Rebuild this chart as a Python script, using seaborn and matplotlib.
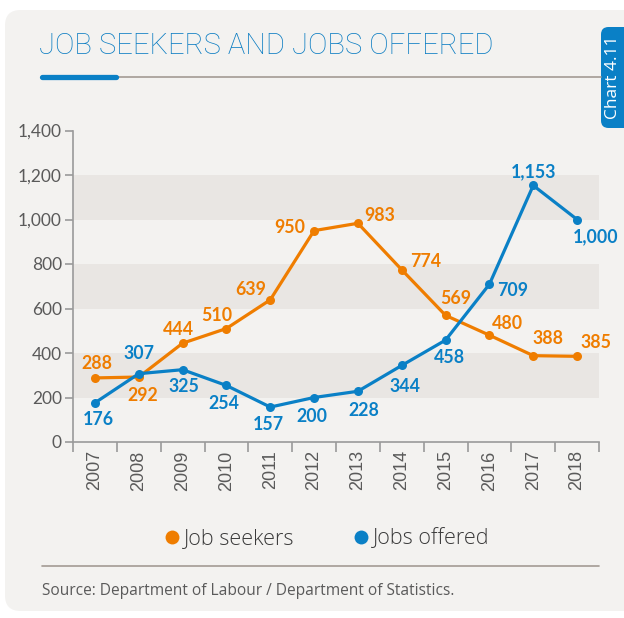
import matplotlib
matplotlib.use("Agg")
import matplotlib.pyplot as plt
import matplotlib.ticker as mticker
from matplotlib.patches import FancyBboxPatch
from matplotlib.lines import Line2D
import numpy as np
import pandas as pd
import seaborn as sns

# ---- data -------------------------------------------------------------
years = [2007, 2008, 2009, 2010, 2011, 2012, 2013, 2014, 2015, 2016, 2017, 2018]
job_seekers = [288, 292, 444, 510, 639, 950, 983, 774, 569, 480, 388, 385]
jobs_offered = [176, 307, 325, 254, 157, 200, 228, 344, 458, 709, 1153, 1000]
series_names = ["Job seekers", "Jobs offered"]
y_ticks = [0, 200, 400, 600, 800, 1000, 1200, 1400]

title_text = "JOB SEEKERS AND JOBS OFFERED"
tab_text = "Chart 4.11"
source_text = "Source: Department of Labour / Department of Statistics."

# ---- styling ----------------------------------------------------------
ORANGE = "#ef7d00"
BLUE = "#0a80c6"
PANEL = "#f3f2f0"
BAND = "#e9e6e3"
TEXT_GREY = "#5a5a5a"
RULE_GREY = "#a39b94"

# label offsets in pixels (dx, dy) for each point's value label
seeker_offsets = [(2, 14), (4, -18), (-4, 14), (-10, 13), (-20, 10), (-24, 3),
                  (22, 8), (24, 8), (10, 17), (18, 12), (15, 17), (19, 14)]
offered_offsets = [(3, -17), (0, 20), (1, -17), (-3, -18), (-2, -17), (-2, -19),
                   (6, -19), (3, -21), (4, -17), (23, -6), (0, 14), (19, -17)]

sns.set_theme(style="white")
plt.rcParams["font.family"] = ["Lato", "DejaVu Sans"]

W, H = 624, 618
fig = plt.figure(figsize=(W / 100, H / 100), dpi=100)
fig.patch.set_facecolor("white")


def fx(x):
    return x / W


def fy(y):
    return 1 - y / H


# rounded background panel
panel = FancyBboxPatch((fx(5), fy(611)), fx(640) - fx(5), fy(10) - fy(611),
                       boxstyle="round,pad=0,rounding_size=0.025",
                       transform=fig.transFigure, facecolor=PANEL,
                       edgecolor="none", zorder=-10)
fig.patches.append(panel)

# chart number tab
tab = FancyBboxPatch((fx(601), fy(128)), fx(650) - fx(601), fy(27) - fy(128),
                     boxstyle="round,pad=0,rounding_size=0.012",
                     transform=fig.transFigure, facecolor="#0a80c6",
                     edgecolor="none", zorder=-5)
fig.patches.append(tab)
fig.text(fx(613), fy(77), tab_text, rotation=90, color="white",
         ha="center", va="center", fontsize=12.5,
         family=["Open Sans", "DejaVu Sans"])

# title and rules
fig.text(fx(39), fy(46), title_text, color="#0a7cc2", fontsize=21,
         fontweight="light", family=["Roboto", "DejaVu Sans"],
         ha="left", va="center")
fig.lines.append(Line2D([fx(118), fx(601)], [fy(77), fy(77)],
                        transform=fig.transFigure, color=RULE_GREY, lw=1.2))
fig.lines.append(Line2D([fx(42), fx(116)], [fy(77), fy(77)],
                        transform=fig.transFigure, color=BLUE, lw=3.8,
                        solid_capstyle="round"))

# ---- main axes --------------------------------------------------------
ax = fig.add_axes([fx(73), fy(442), fx(599) - fx(73), fy(130.5) - fy(442)])
ax.set_zorder(5)
ax.set_facecolor(PANEL)

for lo, hi in [(200, 400), (600, 800), (1000, 1200)]:
    ax.axhspan(lo, hi, color=BAND, lw=0, zorder=0)

df = pd.DataFrame({
    "year": years * 2,
    "value": job_seekers + jobs_offered,
    "series": [series_names[0]] * len(years) + [series_names[1]] * len(years),
})
sns.lineplot(data=df, x="year", y="value", hue="series",
             palette=[ORANGE, BLUE], marker="o", markersize=6.5,
             markeredgewidth=0, linewidth=2.3, legend=False, ax=ax, zorder=3)

for vals, offs, col in [(job_seekers, seeker_offsets, ORANGE),
                        (jobs_offered, offered_offsets, BLUE)]:
    for yr, v, (dx, dy) in zip(years, vals, offs):
        ax.annotate(f"{v:,}", (yr, v), xytext=(dx, dy),
                    textcoords="offset pixels", ha="center", va="center",
                    color=col, fontsize=12.8, fontweight="bold", zorder=4,
                    annotation_clip=False)

ax.set_xlim(years[0] - 0.5, years[-1] + 0.5)
ax.set_ylim(0, 1400)
ax.set_yticks(y_ticks)
ax.yaxis.set_major_formatter(mticker.FuncFormatter(lambda v, p: f"{int(v):,}"))
ax.set_xticks(np.arange(years[0] - 0.5, years[-1] + 1, 1.0))
ax.set_xticklabels([])
ax.set_xticks(years, minor=True)
ax.set_xticklabels([str(y) for y in years], minor=True, rotation=90,
                   family=["Liberation Sans", "DejaVu Sans"], fontsize=13,
                   color=TEXT_GREY)
ax.tick_params(axis="x", which="major", direction="out", length=7,
               width=1.2, color="#9a9a9a", bottom=True)
ax.tick_params(axis="x", which="minor", length=0, pad=6, bottom=True)
ax.tick_params(axis="y", direction="out", length=6, width=1.2,
               color="#9a9a9a", labelsize=12.5, labelcolor=TEXT_GREY, pad=2,
               left=True)
ax.set_xlabel("")
ax.set_ylabel("")
for s in ["top", "right"]:
    ax.spines[s].set_visible(False)
for s in ["left", "bottom"]:
    ax.spines[s].set_color("#9a9a9a")
    ax.spines[s].set_linewidth(1.2)

# ---- legend -----------------------------------------------------------
handles = [Line2D([], [], ls="", marker="o", markersize=10, color=c,
                  markeredgewidth=0) for c in (ORANGE, BLUE)]
fig.legend(handles, series_names, loc="center", ncol=2,
           bbox_to_anchor=(fx(325), fy(539)), frameon=False,
           handletextpad=0.05, columnspacing=2.6, handlelength=1.0,
           prop={"family": ["Open Sans", "DejaVu Sans"], "size": 15.5,
                 "weight": "light"}, labelcolor="#3a3a3a")

# ---- footer -----------------------------------------------------------
fig.lines.append(Line2D([fx(42), fx(599)], [fy(566), fy(566)],
                        transform=fig.transFigure, color=RULE_GREY, lw=1.2))
fig.text(fx(42), fy(591), source_text, color=TEXT_GREY, fontsize=11.2,
         family=["Open Sans", "DejaVu Sans"], ha="left", va="center")

fig.savefig("out.png", dpi=100, facecolor="white")
